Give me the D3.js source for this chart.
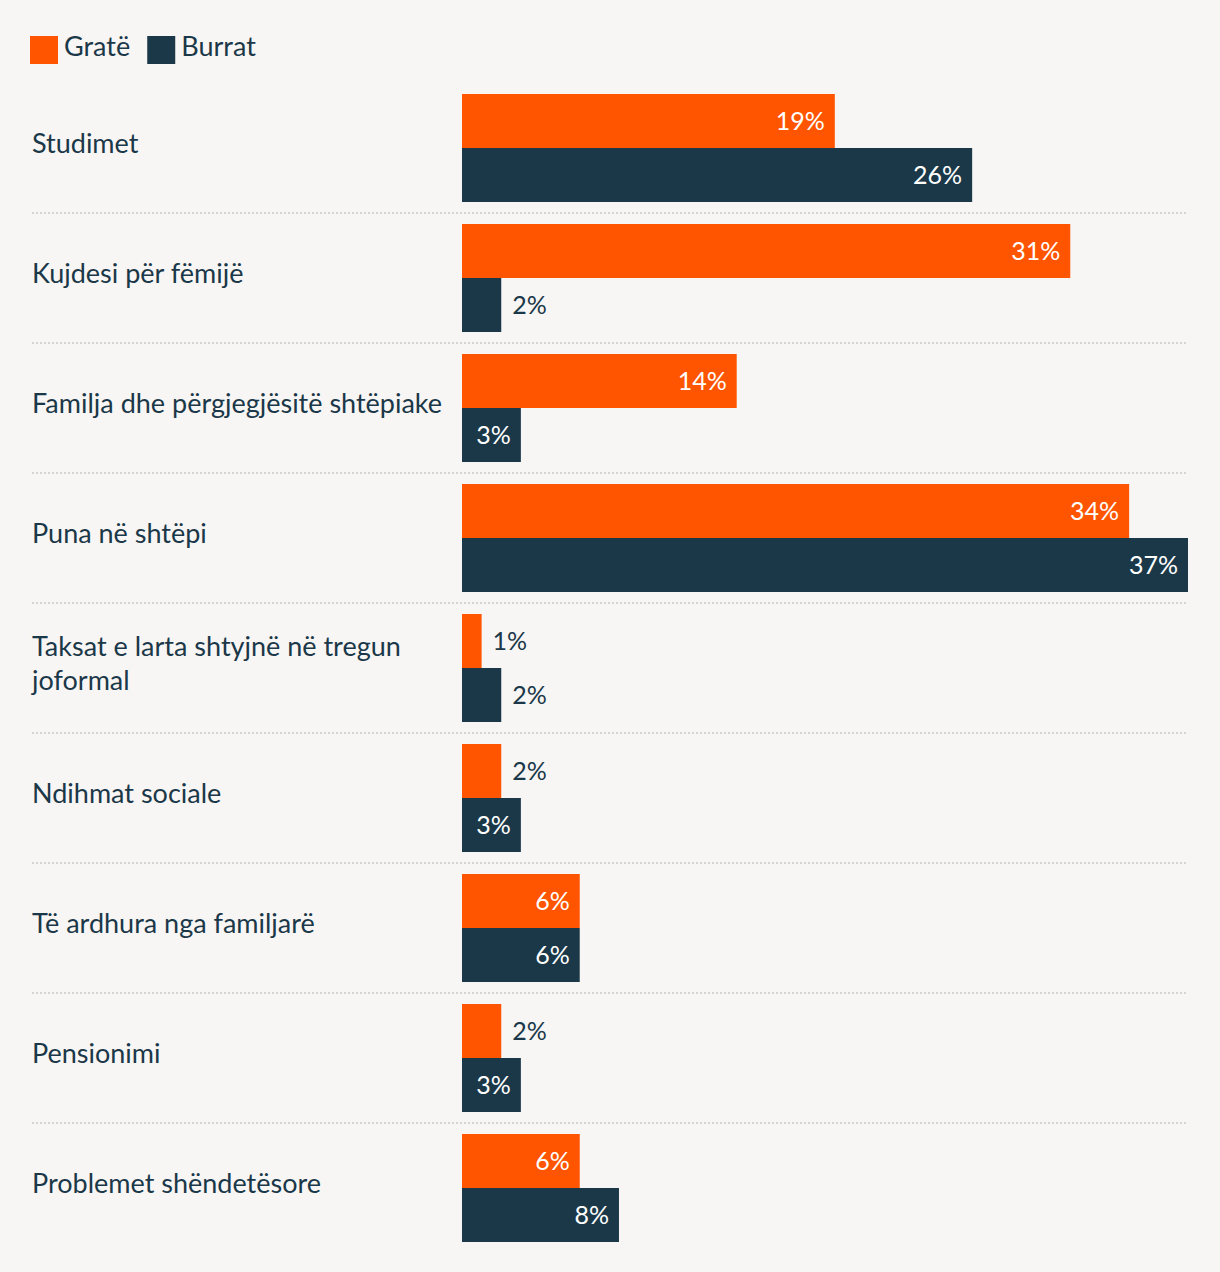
<!DOCTYPE html>
<html><head><meta charset="utf-8">
<script src="https://cdn.jsdelivr.net/npm/d3@7"></script>
<style>
body{margin:0;background:#f8f6f4;}
svg{display:block;}
text{font-family:Lato, "Open Sans", sans-serif;}
</style></head><body>
<svg id="c" width="1220" height="1272"></svg>
<script>
const categories = [
  ["Studimet"],
  ["Kujdesi për fëmijë"],
  ["Familja dhe përgjegjësitë shtëpiake"],
  ["Puna në shtëpi"],
  ["Taksat e larta shtyjnë në tregun", "joformal"],
  ["Ndihmat sociale"],
  ["Të ardhura nga familjarë"],
  ["Pensionimi"],
  ["Problemet shëndetësore"]
];
const seriesNames = ["Gratë", "Burrat"];
const womenValues = [19, 31, 14, 34, 1, 2, 6, 2, 6];
const menValues = [26, 2, 3, 37, 2, 3, 6, 3, 8];

const colors = ["#ff5500", "#1b3849"];
const textColor = "#1b3849";
const svg = d3.select("#c");
const fs = 25;
const labelFs = 27;

const x = d3.scaleLinear().domain([0, 37]).range([462, 1188]);
const y = d3.scaleBand().domain(d3.range(categories.length)).range([94, 94 + 130 * categories.length]).paddingInner(0).paddingOuter(0);
const sub = d3.scaleBand().domain([0, 1]).range([0, 108]);

// legend
const leg = svg.append("g");
let lx = 30;
seriesNames.forEach((n, i) => {
  leg.append("rect").attr("x", lx).attr("y", 36).attr("width", 28).attr("height", 28).attr("fill", colors[i]);
  const t = leg.append("text").attr("x", lx + 34).attr("y", 56).attr("font-size", labelFs).attr("fill", textColor).text(n);
  lx += 34 + t.node().getComputedTextLength() + 17;
});

// separators
svg.selectAll("line.sep").data(d3.range(categories.length - 1)).join("line")
  .attr("x1", 32).attr("x2", 1188)
  .attr("y1", i => y(i) + 119).attr("y2", i => y(i) + 119)
  .attr("stroke", "#d4d4d4").attr("stroke-width", 2).attr("stroke-dasharray", "2,2");

// category labels
categories.forEach((lines, i) => {
  const cy = y(i) + 54;
  const t = svg.append("text").attr("x", 32).attr("font-size", labelFs).attr("fill", textColor);
  lines.forEach((l, j) => {
    t.append("tspan").attr("x", 32).attr("y", cy + 5 + (j - (lines.length - 1) / 2) * 34).text(l);
  });
});

// bars
const series = [womenValues, menValues];
series.forEach((vals, s) => {
  const g = svg.append("g");
  vals.forEach((v, i) => {
    const by = y(i) + sub(s);
    const w = x(v) - x(0);
    g.append("rect").attr("x", x(0)).attr("y", by).attr("width", w).attr("height", 54).attr("fill", colors[s]);
    const inside = w > 50;
    g.append("text")
      .attr("x", inside ? x(v) - 10 : x(v) + 11)
      .attr("y", by + 36)
      .attr("text-anchor", inside ? "end" : "start")
      .attr("font-size", fs)
      .attr("fill", inside ? "#ffffff" : textColor)
      .text(v + "%");
  });
});
</script></body></html>
